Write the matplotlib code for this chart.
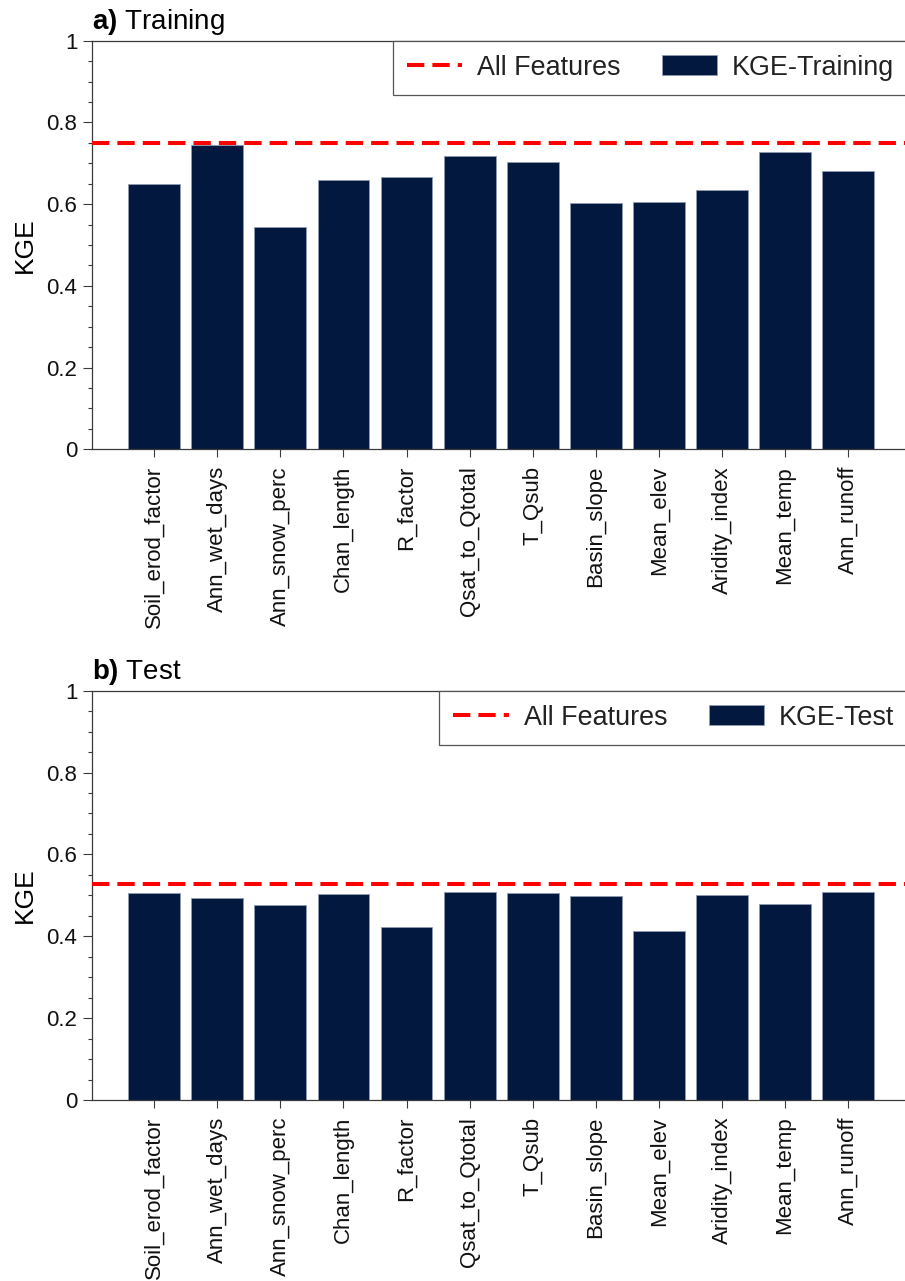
import matplotlib
matplotlib.use("Agg")
import matplotlib.pyplot as plt
from matplotlib.ticker import MultipleLocator, FixedLocator, FuncFormatter
import numpy as np

plt.rcParams['font.family'] = ['Liberation Sans', 'DejaVu Sans']
plt.rcParams['mathtext.fontset'] = 'custom'
plt.rcParams['mathtext.rm'] = 'Liberation Sans'
plt.rcParams['mathtext.bf'] = 'Liberation Sans:bold'

features = ["Soil_erod_factor", "Ann_wet_days", "Ann_snow_perc", "Chan_length",
            "R_factor", "Qsat_to_Qtotal", "T_Qsub", "Basin_slope", "Mean_elev",
            "Aridity_index", "Mean_temp", "Ann_runoff"]
kge_train = [0.650, 0.744, 0.543, 0.658, 0.666, 0.718, 0.702, 0.603, 0.605,
             0.634, 0.727, 0.681]
kge_test = [0.506, 0.494, 0.477, 0.504, 0.423, 0.509, 0.505, 0.498, 0.413,
            0.500, 0.478, 0.509]
all_train = 0.750
all_test = 0.528

panels = [
    ("a)", "Training", kge_train, all_train, "KGE-Training"),
    ("b)", "Test", kge_test, all_test, "KGE-Test"),
]

W, H = 905, 1281
fig = plt.figure(figsize=(W / 100, H / 100), dpi=100)

bar_color = "#02183F"
edge_color = "#8f9bb0"
spine_color = "#3a3a3a"

ax_boxes = [(92, 40.7, 449.3), (92, 690.7, 1100.0)]
for (letter, name, vals, allv, lab), (lx, ty, by) in zip(panels, ax_boxes):
    ax = fig.add_axes([lx / W, 1 - by / H, (W - lx) / W, (by - ty) / H])
    x = np.arange(len(features))
    ax.bar(x, vals, width=0.82, color=bar_color, edgecolor=edge_color,
           linewidth=0.6, label=lab, zorder=2)
    ax.axhline(allv, color="#ff0000", linewidth=2.9, linestyle=(0, (4.3, 2.0)),
               label="All Features", zorder=3)
    ax.set_xlim(-0.985, 11.9)
    ax.set_ylim(0, 1)
    ax.set_xticks(x)
    ax.set_xticklabels(features, rotation=90, fontsize=16, va="top", ha="center",
                       color="#111111")
    ax.yaxis.set_major_locator(FixedLocator([0, 0.2, 0.4, 0.6, 0.8, 1.0]))
    ax.yaxis.set_minor_locator(MultipleLocator(0.05))
    ax.yaxis.set_major_formatter(FuncFormatter(lambda v, p: f"{v:g}"))
    ax.tick_params(axis="y", which="major", direction="out", length=6.5,
                   width=0.8, color=spine_color, labelsize=16, pad=4,
                   labelcolor="#111111")
    ax.tick_params(axis="y", which="minor", direction="out", length=3.2,
                   width=0.8, color=spine_color)
    ax.tick_params(axis="x", which="major", direction="out", length=6,
                   width=0.8, color=spine_color, pad=6)
    for s in ["left", "bottom", "top"]:
        ax.spines[s].set_color(spine_color)
        ax.spines[s].set_linewidth(0.9)
    ax.spines["right"].set_visible(False)
    ax.set_ylabel("KGE", fontsize=19, labelpad=7)
    ax.set_title(r"$\mathbf{" + letter + "}$ " + name, loc="left",
                 fontsize=20, pad=8.2)
    handles, labels = ax.get_legend_handles_labels()
    order = [labels.index("All Features"), labels.index(lab)]
    leg = ax.legend([handles[i] for i in order], [labels[i] for i in order],
                    loc="upper right", bbox_to_anchor=(1.004, 1.0), ncol=2,
                    fontsize=19.4, frameon=True, fancybox=False, framealpha=1,
                    edgecolor="#555555", borderaxespad=0, borderpad=0.52,
                    handlelength=2.05, handleheight=0.75, handletextpad=0.55,
                    columnspacing=1.55)
    leg.get_frame().set_linewidth(0.9)
    for t in leg.get_texts():
        t.set_color("#222222")

fig.savefig("out.png", dpi=100)
